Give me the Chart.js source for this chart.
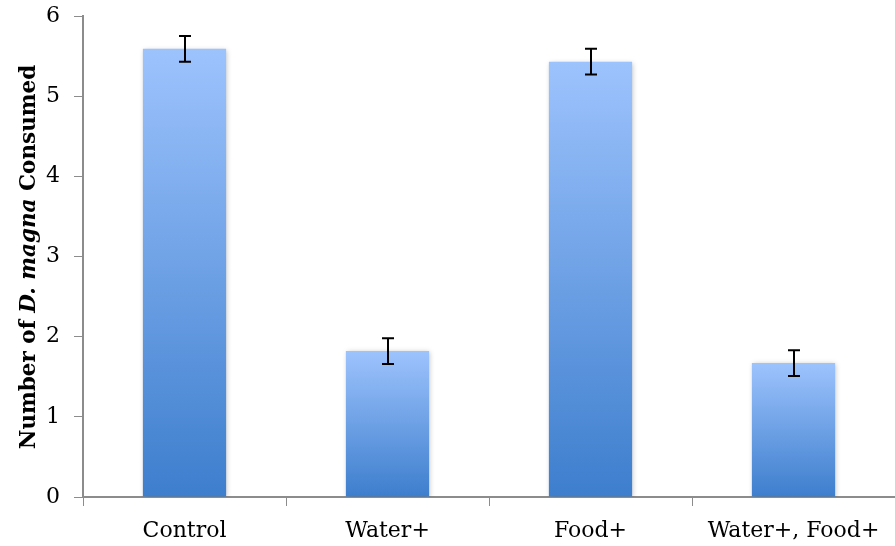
<!DOCTYPE html>
<html>
<head>
<meta charset="utf-8">
<script src="https://cdn.jsdelivr.net/npm/chart.js@4"></script>
<style>
  html, body { margin: 0; padding: 0; background: #fff; }
  #wrap { width: 895px; height: 546px; }
</style>
</head>
<body>
<div id="wrap"><canvas id="chart" width="895" height="546"></canvas></div>
<script>
const categories = ['Control', 'Water+', 'Food+', 'Water+, Food+'];
const consumed = [5.59, 1.82, 5.43, 1.67];
const errors = [0.16, 0.16, 0.16, 0.16];
const yTicks = [0, 1, 2, 3, 4, 5, 6];

const fontFamily = "'DejaVu Serif', 'Liberation Serif', serif";

function barGradient(context) {
    const chart = context.chart;
    if (!chart.chartArea) return '#6a9fe6';
    const y = chart.scales.y;
    const top = y.getPixelForValue(context.raw);
    const bottom = y.getPixelForValue(0);
    const g = chart.ctx.createLinearGradient(0, top, 0, bottom);
    g.addColorStop(0, '#9dc3fd');
    g.addColorStop(1, '#3d7ecd');
    return g;
}

// soft shadow behind the bars
const shadowPlugin = {
    id: 'barShadow',
    beforeDatasetsDraw(chart) {
        const ctx = chart.ctx;
        ctx.save();
        ctx.shadowColor = 'rgba(0,0,0,0.25)';
        ctx.shadowBlur = 5;
        ctx.shadowOffsetX = 1;
        ctx.shadowOffsetY = 1;
    },
    afterDatasetsDraw(chart) {
        chart.ctx.restore();
    }
};

// error bars
const errorBarPlugin = {
    id: 'errorBars',
    afterDatasetsDraw(chart) {
        const ctx = chart.ctx;
        const meta = chart.getDatasetMeta(0);
        const y = chart.scales.y;
        ctx.save();
        ctx.strokeStyle = '#000';
        ctx.lineWidth = 2;
        meta.data.forEach((bar, i) => {
            const x = Math.round(bar.x);
            const hi = y.getPixelForValue(consumed[i] + errors[i]);
            const lo = y.getPixelForValue(consumed[i] - errors[i]);
            ctx.beginPath();
            ctx.moveTo(x, hi); ctx.lineTo(x, lo);
            ctx.moveTo(x - 6, hi); ctx.lineTo(x + 6, hi);
            ctx.moveTo(x - 6, lo); ctx.lineTo(x + 6, lo);
            ctx.stroke();
        });
        ctx.restore();
    }
};

// y title with italic species name
const yTitlePlugin = {
    id: 'yTitle',
    afterDraw(chart) {
        const ctx = chart.ctx;
        const size = 21.5;
        const parts = [
            { t: 'Number of ', f: 'bold ' + size + 'px ' + fontFamily },
            { t: 'D. magna', f: 'italic bold ' + size + 'px ' + fontFamily },
            { t: ' Consumed', f: 'bold ' + size + 'px ' + fontFamily }
        ];
        ctx.save();
        let total = 0;
        parts.forEach(p => { ctx.font = p.f; p.w = ctx.measureText(p.t).width; total += p.w; });
        ctx.translate(29, 257);
        ctx.rotate(-Math.PI / 2);
        ctx.fillStyle = '#000';
        ctx.textBaseline = 'middle';
        ctx.textAlign = 'left';
        let x = -total / 2;
        parts.forEach(p => { ctx.font = p.f; ctx.fillText(p.t, x, 0); x += p.w; });
        ctx.restore();
    }
};

new Chart(document.getElementById('chart').getContext('2d'), {
    type: 'bar',
    data: {
        labels: categories,
        datasets: [{
            data: consumed,
            backgroundColor: barGradient,
            borderWidth: 0,
            categoryPercentage: 1,
            barPercentage: 0.41
        }]
    },
    options: {
        responsive: false,
        animation: false,
        devicePixelRatio: 1,
        layout: { padding: { top: 16, right: 0, bottom: 0, left: 0 } },
        plugins: {
            legend: { display: false },
            tooltip: { enabled: false }
        },
        scales: {
            x: {
                afterFit(scale) { scale.height = 49; scale.paddingLeft = 0; scale.paddingRight = 0; },
                grid: { offset: true, drawOnChartArea: false, drawTicks: true, tickLength: 9, color: '#8c8c8c', lineWidth: 1 },
                border: { display: true, color: '#8c8c8c', width: 2 },
                ticks: { color: '#000', font: { family: fontFamily, size: 22 }, padding: 12 }
            },
            y: {
                min: 0,
                max: 6,
                afterBuildTicks(scale) { scale.ticks = yTicks.map(v => ({ value: v })); },
                afterFit(scale) { scale.width = 83; scale.paddingTop = 0; scale.paddingBottom = 0; },
                grid: { drawOnChartArea: false, drawTicks: true, tickLength: 9, color: '#8c8c8c' },
                border: { display: true, color: '#8c8c8c', width: 2 },
                ticks: { color: '#000', font: { family: fontFamily, size: 22 }, padding: 14 }
            }
        }
    },
    plugins: [shadowPlugin, errorBarPlugin, yTitlePlugin]
});
</script>
</body>
</html>
